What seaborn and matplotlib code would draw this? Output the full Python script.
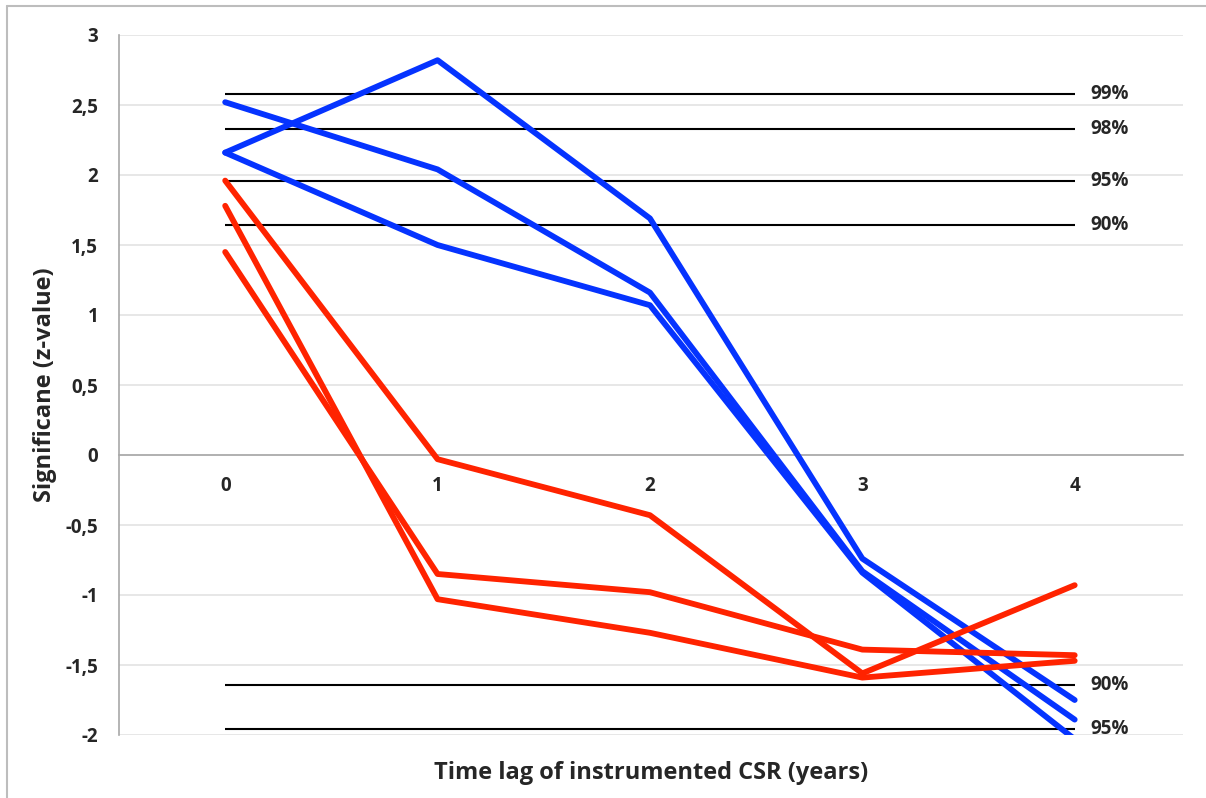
import numpy as np
import pandas as pd
import matplotlib
matplotlib.use('Agg')
import matplotlib.pyplot as plt
import seaborn as sns
from matplotlib.lines import Line2D

lags = [0, 1, 2, 3, 4]

blue_1 = [2.16, 2.82, 1.69, -0.74, -1.75]
blue_2 = [2.52, 2.04, 1.16, -0.83, -1.89]
blue_3 = [2.16, 1.50, 1.07, -0.84, -2.03]
red_1 = [1.96, -0.03, -0.43, -1.56, -0.93]
red_2 = [1.78, -1.03, -1.27, -1.59, -1.47]
red_3 = [1.45, -0.85, -0.98, -1.39, -1.43]

thresholds = [2.576, 2.326, 1.960, 1.645, -1.645, -1.960]
threshold_labels = ['99%', '98%', '95%', '90%', '90%', '95%']

y_ticks = [-2, -1.5, -1, -0.5, 0, 0.5, 1, 1.5, 2, 2.5, 3]

series = {'b1': blue_1, 'b2': blue_2, 'b3': blue_3,
          'r1': red_1, 'r2': red_2, 'r3': red_3}
rows = []
for name, vals in series.items():
    for lag, v in zip(lags, vals):
        rows.append({'lag': lag, 'z': v, 'series': name})
df = pd.DataFrame(rows)

BLUE = '#0533ff'
RED = '#ff2300'
palette = {'b1': BLUE, 'b2': BLUE, 'b3': BLUE, 'r1': RED, 'r2': RED, 'r3': RED}

sns.set_style('white')
plt.rcParams['font.family'] = ['Open Sans', 'DejaVu Sans']
FS = 13.5
LFS = 17

fig = plt.figure(figsize=(12.06, 7.98), dpi=100)
ax = fig.add_axes([119/1206, 1-735/798, (1183-119)/1206, (735-35)/798])

# light grid
for t in y_ticks:
    ax.axhline(t, color='#e3e3e3', lw=1.2, zorder=0)

# significance thresholds
ax.hlines(thresholds, 0, 4, color='black', lw=1.5, zorder=1)
for t, lab in zip(thresholds, threshold_labels):
    ax.text(4.075, t, lab, va='center', ha='left', fontsize=FS, fontweight='bold')

sns.lineplot(data=df, x='lag', y='z', hue='series', palette=palette,
             lw=4.2, legend=False, ax=ax, zorder=3, sort=False)
for line in ax.get_lines():
    line.set_solid_capstyle('round')
    line.set_solid_joinstyle('round')

# spine position first: it resets the tick labels
for s in ['top', 'right']:
    ax.spines[s].set_visible(False)
ax.spines['bottom'].set_position(('data', 0))
ax.spines['bottom'].set_color('#a8a8a8')
ax.spines['bottom'].set_linewidth(1.2)
ax.spines['left'].set_color('#a8a8a8')
ax.spines['left'].set_linewidth(1.2)

ax.set_xlim(-0.5, 4.51)
ax.set_ylim(-2, 3)
ax.set_yticks(y_ticks)
ax.set_yticklabels([('%g' % t).replace('.', ',') for t in y_ticks],
                   fontsize=FS, fontweight='bold')
ax.set_xticks(lags)
ax.set_xticklabels([str(l) for l in lags], fontsize=FS, fontweight='bold')
ax.tick_params(axis='x', length=0, pad=15)
ax.tick_params(axis='y', length=0, pad=15)

ax.set_xlabel('')
ax.set_ylabel('Significane (z-value)', fontsize=LFS, fontweight='bold', va='center')
ax.yaxis.set_label_coords((45-119)/1064, 0.5)
fig.text((119+1183)/2/1206, 1-773/798, 'Time lag of instrumented CSR (years)',
         ha='center', va='center', fontsize=LFS, fontweight='bold')

# outer frame (only left and top visible in the original)
fig.add_artist(Line2D([7/1206, 7/1206], [0, 1-6/798], color='#bdbdbd', lw=1.5))
fig.add_artist(Line2D([7/1206, 1], [1-6/798, 1-6/798], color='#bdbdbd', lw=1.5))

fig.savefig('out.png', dpi=100)
